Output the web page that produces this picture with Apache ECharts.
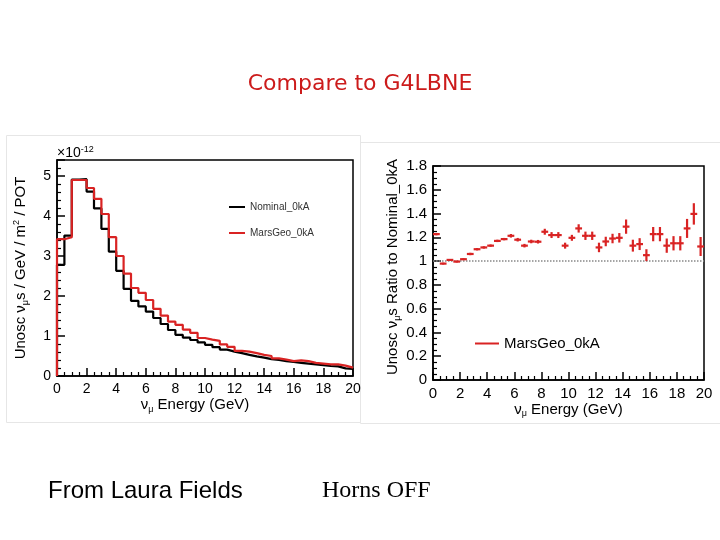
<!DOCTYPE html>
<html><head><meta charset="utf-8">
<script src="https://cdn.jsdelivr.net/npm/echarts@6/dist/echarts.min.js"></script>
<style>html,body{margin:0;padding:0;background:#fff}#c{width:720px;height:540px}</style>
</head><body><div id="c"></div>
<script>
// Energy bin edges (GeV)
const binEdges = [0,0.5,1,1.5,2,2.5,3,3.5,4,4.5,5,5.5,6,6.5,7,7.5,8,8.5,9,9.5,10,
  10.5,11,11.5,12,12.5,13,13.5,14,14.5,15,15.5,16,16.5,17,17.5,18,18.5,19,19.5,20];
// Flux (x1e-12) per bin
const nominal0kA = [2.78,3.51,4.91,4.92,4.61,4.19,3.68,3.11,2.63,2.18,
  1.88,1.74,1.61,1.45,1.30,1.15,1.03,0.96,0.90,0.84,
  0.78,0.72,0.66,0.61,0.57,0.53,0.49,0.46,0.42,0.40,
  0.37,0.35,0.33,0.31,0.29,0.27,0.25,0.24,0.19,0.18];
const marsGeo0kA = [3.42,3.47,4.90,4.90,4.70,4.43,4.05,3.47,3.00,2.56,
  2.20,2.08,1.90,1.68,1.51,1.36,1.28,1.16,1.08,0.95,
  0.91,0.88,0.79,0.73,0.63,0.61,0.57,0.53,0.50,0.44,
  0.41,0.37,0.39,0.37,0.33,0.31,0.29,0.29,0.26,0.21];
// Ratio MarsGeo / Nominal and its uncertainty
const ratioValues = [1.227,0.979,1.010,0.996,1.016,1.060,1.100,1.115,1.130,1.170,
  1.185,1.213,1.180,1.130,1.165,1.163,1.247,1.219,1.219,1.130,
  1.196,1.275,1.213,1.213,1.115,1.165,1.190,1.196,1.290,1.130,
  1.143,1.050,1.227,1.227,1.130,1.150,1.150,1.275,1.397,1.123];
const ratioErrors = [0.010,0.008,0.008,0.008,0.008,0.010,0.010,0.010,0.010,0.010,
  0.010,0.015,0.015,0.015,0.015,0.015,0.025,0.025,0.025,0.025,
  0.025,0.035,0.035,0.035,0.040,0.040,0.040,0.040,0.060,0.050,
  0.050,0.050,0.060,0.060,0.060,0.060,0.060,0.080,0.090,0.080];
const ratioReference = 1;
const fluxExponentLabel = '-12';

const FONT = 'Liberation Sans';
const RED = '#d92323';

function stepData(vals){
  const d = [[binEdges[0], 0]];
  for (let i = 0; i < vals.length; i++) d.push([binEdges[i], vals[i]]);
  d.push([binEdges[binEdges.length-1], vals[vals.length-1]]);
  return d;
}
const ratioData = ratioValues.map((r,i)=>[(binEdges[i]+binEdges[i+1])/2, r, ratioErrors[i], (binEdges[i+1]-binEdges[i])/2]);

const rich = {
  t:{fontSize:15, fontFamily:FONT, color:'#000', lineHeight:18},
  sub:{fontSize:9, fontFamily:FONT, color:'#000', lineHeight:10, verticalAlign:'bottom'},
  sup:{fontSize:9, fontFamily:FONT, color:'#000', lineHeight:10, verticalAlign:'top'}
};
const axLine = {show:true, lineStyle:{color:'#000', width:1.5}};
function xAxisCfg(gi, fs, gap){
  return {gridIndex:gi, type:'value', min:0, max:20, interval:2,
    axisLine:axLine,
    axisTick:{inside:true, length:8, lineStyle:{color:'#000', width:1.5}},
    minorTick:{show:true, splitNumber:4, length:4, lineStyle:{color:'#000', width:1.2}},
    splitLine:{show:false},
    axisLabel:{color:'#000', fontSize:fs, fontFamily:FONT, margin:6},
    name:'{t|ν}{sub|μ}{t| Energy (GeV)}', nameLocation:'middle', nameGap:gap,
    nameTextStyle:{rich:rich, padding: gi===0 ? [0,20,0,0] : [0,0,0,0]}
  };
}

const chart = echarts.init(document.getElementById('c'), null, {renderer:'canvas'});
chart.setOption({
  animation:false,
  backgroundColor:'#fff',
  title:[
    {text:'Compare to G4LBNE', left:'center', top:73, padding:0,
     textStyle:{color:'#cc1b1b', fontSize:22, fontWeight:'normal', fontFamily:'DejaVu Sans'}},
    {text:'From Laura Fields', left:48, top:479, padding:0,
     textStyle:{color:'#000', fontSize:24, fontWeight:'normal', fontFamily:FONT}},
    {text:'Horns OFF', left:322, top:479, padding:0,
     textStyle:{color:'#000', fontSize:24, fontWeight:'normal', fontFamily:'Liberation Serif'}},
    {text:'{a|×10}{b|' + fluxExponentLabel + '}', left:57, top:145, padding:0,
     textStyle:{fontWeight:'normal',
       rich:{a:{fontSize:14, fontFamily:FONT, color:'#000', lineHeight:16, fontWeight:'normal'},
             b:{fontSize:9, fontFamily:FONT, color:'#000', lineHeight:10, verticalAlign:'top', fontWeight:'normal'}}}}
  ],
  graphic:[
    {type:'rect', shape:{x:6.5, y:135.5, width:354, height:287}, style:{fill:'none', stroke:'#e6e6e6', lineWidth:1}, z:-1},
    {type:'rect', shape:{x:360.5, y:142.5, width:360, height:281}, style:{fill:'none', stroke:'#e6e6e6', lineWidth:1}, z:-1}
  ],
  legend:[
    {data:['Nominal_0kA','MarsGeo_0kA'], left:229, top:202, orient:'vertical', itemGap:16,
     itemWidth:16, itemHeight:2, icon:'rect', padding:0, selectedMode:false,
     textStyle:{fontSize:10, color:'#333', fontFamily:FONT}},
    {data:['MarsGeo_0kA'], left:475, top:336, itemWidth:24, itemHeight:2, icon:'rect', padding:0,
     selectedMode:false, textStyle:{fontSize:15, color:'#000', fontFamily:FONT}}
  ],
  grid:[
    {left:57, right:367, top:160, bottom:164, show:true, borderColor:'#000', borderWidth:1.5, backgroundColor:'transparent'},
    {left:433, right:16, top:166, bottom:160, show:true, borderColor:'#000', borderWidth:1.5, backgroundColor:'transparent'}
  ],
  xAxis:[xAxisCfg(0,14,20), xAxisCfg(1,15,20)],
  yAxis:[
    {gridIndex:0, type:'value', min:0, max:5.4, interval:1,
     axisLine:axLine,
     axisTick:{inside:true, length:8, lineStyle:{color:'#000', width:1.5}},
     minorTick:{show:true, splitNumber:5, length:4, lineStyle:{color:'#000', width:1.2}},
     splitLine:{show:false},
     axisLabel:{showMaxLabel:false, color:'#000', fontSize:14, fontFamily:FONT, margin:6,
       formatter:v=>Number.isInteger(v)?String(v):''},
     name:'{t|Unosc ν}{sub|μ}{t|s / GeV / m}{sup|2}{t| / POT}', nameLocation:'middle', nameGap:27,
     nameTextStyle:{rich:rich}},
    {gridIndex:1, type:'value', min:0, max:1.8, interval:0.2,
     axisLine:axLine,
     axisTick:{inside:true, length:8, lineStyle:{color:'#000', width:1.5}},
     minorTick:{show:true, splitNumber:4, length:4, lineStyle:{color:'#000', width:1.2}},
     splitLine:{show:false},
     axisLabel:{color:'#000', fontSize:15, fontFamily:FONT, margin:6,
       formatter:v=>String(Math.round(v*10)/10)},
     name:'{t|Unosc ν}{sub|μ}{t|s Ratio to Nominal_0kA}', nameLocation:'middle', nameGap:31,
     nameTextStyle:{rich:rich, padding:[0,0,0,12]}}
  ],
  series:[
    {name:'Nominal_0kA', type:'line', xAxisIndex:0, yAxisIndex:0, step:'end', symbol:'none',
     data:stepData(nominal0kA), lineStyle:{color:'#000', width:2.2}, itemStyle:{color:'#000'}, z:3},
    {name:'MarsGeo_0kA', type:'line', xAxisIndex:0, yAxisIndex:0, step:'end', symbol:'none',
     data:stepData(marsGeo0kA), lineStyle:{color:RED, width:2.2}, itemStyle:{color:RED}, z:4},
    {name:'reference', type:'line', xAxisIndex:1, yAxisIndex:1, symbol:'none', silent:true,
     data:[[binEdges[0], ratioReference],[binEdges[binEdges.length-1], ratioReference]],
     lineStyle:{color:'#888', width:1.5, type:'dotted'}, z:2},
    {name:'MarsGeo_0kA', type:'custom', xAxisIndex:1, yAxisIndex:1, itemStyle:{color:RED},
     data:ratioData, z:5,
     renderItem:function(params, api){
       const x=api.value(0), y=api.value(1), e=api.value(2), hw=api.value(3);
       const pL=api.coord([x-hw,y]), pR=api.coord([x+hw,y]);
       const pB=api.coord([x,y-e]), pT=api.coord([x,y+e]);
       const st={stroke:RED, lineWidth:2.2};
       return {type:'group', children:[
         {type:'line', shape:{x1:pL[0],y1:pL[1],x2:pR[0],y2:pR[1]}, style:st},
         {type:'line', shape:{x1:pB[0],y1:pB[1],x2:pT[0],y2:pT[1]}, style:st}
       ]};
     }}
  ]
});
</script></body></html>
